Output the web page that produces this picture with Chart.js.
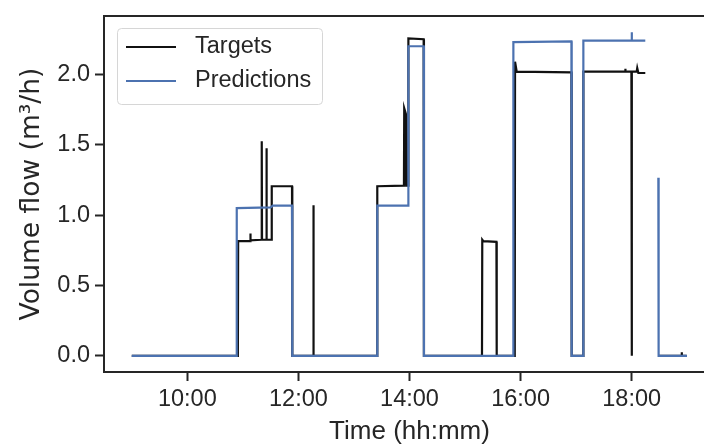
<!DOCTYPE html>
<html>
<head>
<meta charset="utf-8">
<script src="https://cdn.jsdelivr.net/npm/chart.js@4"></script>
<style>
  html, body { margin: 0; padding: 0; background: #fff; overflow: hidden; }
  #wrap { width: 720px; height: 446px; position: relative; }
</style>
</head>
<body>
<div id="wrap"><canvas id="flowChart"></canvas></div>
<script>
// Zeit in Stunden (dezimal), Werte in m3/h
const targetTimes = [9.00, 10.91, 10.915, 11.13, 11.135, 11.14, 11.335, 11.34, 11.345, 11.42, 11.425, 11.43,
    11.515, 11.52, 11.885, 11.89, 12.265, 12.27, 12.275, 13.415, 13.42, 13.90, 13.905, 13.935, 13.94,
    13.975, 13.98, 14.255, 14.26, 15.305, 15.31, 15.33, 15.565, 15.57, 15.895, 15.90, 15.93, 16.915,
    16.92, 17.125, 17.13, 17.88, 17.885, 17.89, 17.995, 18.00, 18.005, 18.09, 18.10, 18.12, 18.245,
    18.30, 18.48, 18.895, 18.90, 18.905, 18.99];
const targetValues = [0, 0, 0.815, 0.815, 0.87, 0.82, 0.825, 1.525, 0.825, 0.825, 1.475, 0.825,
    0.825, 1.205, 1.205, 0, 0, 1.07, 0, 0, 1.205, 1.21, 1.76, 1.72, 1.21,
    1.21, 2.255, 2.25, 0, 0, 0.825, 0.815, 0.81, 0, 0, 2.09, 2.02, 2.015,
    0, 0, 2.02, 2.02, 2.04, 2.02, 2.02, 0, 2.02, 2.02, 2.045, 2.01, 2.01,
    null, 0, 0, 0.025, 0, 0];

const predTimes = [9.00, 10.885, 10.89, 11.50, 11.54, 11.885, 11.89, 13.415, 13.42, 13.975, 13.98,
    14.255, 14.26, 15.865, 15.87, 16.915, 16.92, 17.125, 17.13, 17.995, 18.00, 18.005, 18.245,
    18.30, 18.48, 18.485, 18.995];
const predValues = [0, 0, 1.05, 1.055, 1.068, 1.068, 0, 0, 1.068, 1.068, 2.20,
    2.20, 0, 0, 2.23, 2.235, 0, 0, 2.24, 2.24, 2.30, 2.24, 2.24,
    null, 1.265, 0, 0];

const xTicks = [10, 12, 14, 16, 18];
const yTicks = [0, 0.5, 1.0, 1.5, 2.0];

const FONT = '"Liberation Sans", Arial, sans-serif';
const AXIS_COLOR = '#262626';
const TICK_SIZE = 23.5;
const LABEL_SIZE = 26;

function toPoints(times, values) {
    return times.map((t, i) => ({ x: t, y: values[i] }));
}

function hhmm(v) {
    const h = Math.floor(v);
    const m = Math.round((v - h) * 60);
    return String(h).padStart(2, '0') + ':' + String(m).padStart(2, '0');
}

// Rahmen oben/rechts wie bei matplotlib
const frameBox = {
    id: 'frameBox',
    afterDatasetsDraw(chart) {
        const { ctx, chartArea: a } = chart;
        ctx.save();
        ctx.strokeStyle = AXIS_COLOR;
        ctx.lineWidth = 2;
        ctx.beginPath();
        ctx.moveTo(a.left - 1, a.top);
        ctx.lineTo(a.right, a.top);
        ctx.lineTo(a.right, a.bottom);
        ctx.stroke();
        ctx.restore();
    }
};

// Legende mit Rahmen oben links
const boxLegend = {
    id: 'boxLegend',
    afterDraw(chart) {
        const { ctx } = chart;
        const items = chart.data.datasets;
        const x = 117, y = 28, w = 205, h = 76, r = 4;
        ctx.save();
        ctx.beginPath();
        ctx.roundRect(x + 0.5, y + 0.5, w, h, r);
        ctx.fillStyle = 'rgba(255,255,255,0.8)';
        ctx.fill();
        ctx.strokeStyle = '#d6d6d6';
        ctx.lineWidth = 1;
        ctx.stroke();
        ctx.font = TICK_SIZE + 'px ' + FONT;
        ctx.textBaseline = 'middle';
        items.forEach((ds, i) => {
            const ly = 47 + i * 34;
            ctx.strokeStyle = ds.borderColor;
            ctx.lineWidth = 2;
            ctx.beginPath();
            ctx.moveTo(126, ly);
            ctx.lineTo(176, ly);
            ctx.stroke();
            ctx.fillStyle = '#262626';
            ctx.fillText(ds.label, 195, ly);
        });
        ctx.restore();
    }
};

new Chart(document.getElementById('flowChart'), {
    type: 'line',
    data: {
        datasets: [
            {
                label: 'Targets',
                data: toPoints(targetTimes, targetValues),
                borderColor: '#111111',
                borderWidth: 2.2,
                order: 2
            },
            {
                label: 'Predictions',
                data: toPoints(predTimes, predValues),
                borderColor: '#4c72b0',
                borderWidth: 2.2,
                order: 1
            }
        ]
    },
    options: {
        responsive: true,
        maintainAspectRatio: false,
        animation: false,
        spanGaps: false,
        elements: {
            point: { radius: 0 },
            line: { tension: 0, borderJoinStyle: 'miter' }
        },
        layout: { padding: { top: 16, right: 5, left: 0, bottom: 0 } },
        plugins: {
            legend: { display: false },
            tooltip: { enabled: false }
        },
        scales: {
            x: {
                type: 'linear',
                min: 8.5,
                max: 19.5,
                afterBuildTicks: s => { s.ticks = xTicks.map(v => ({ value: v })); },
                afterFit: s => { s.height = 74; s.paddingLeft = 0; s.paddingRight = 0; },
                grid: { drawOnChartArea: false, drawTicks: true, tickLength: 9, tickWidth: 2, tickColor: AXIS_COLOR },
                border: { display: true, color: AXIS_COLOR, width: 2 },
                ticks: {
                    padding: 7,
                    maxRotation: 0,
                    color: AXIS_COLOR,
                    font: { family: FONT, size: TICK_SIZE, lineHeight: 1 },
                    callback: v => hhmm(v)
                },
                title: {
                    display: true,
                    text: 'Time (hh:mm)',
                    color: AXIS_COLOR,
                    font: { family: FONT, size: LABEL_SIZE, lineHeight: 1 },
                    padding: { top: 0, bottom: 1 }
                }
            },
            y: {
                min: -0.115,
                max: 2.415,
                afterBuildTicks: s => { s.ticks = yTicks.map(v => ({ value: v })); },
                afterFit: s => { s.width = 104; s.paddingTop = 0; s.paddingBottom = 0; },
                grid: { drawOnChartArea: false, drawTicks: true, tickLength: 9, tickWidth: 2, tickColor: AXIS_COLOR },
                border: { display: true, color: AXIS_COLOR, width: 2 },
                ticks: {
                    padding: 5,
                    color: AXIS_COLOR,
                    font: { family: FONT, size: TICK_SIZE },
                    callback: v => v.toFixed(1)
                },
                title: {
                    display: true,
                    text: 'Volume flow (m³/h)',
                    color: AXIS_COLOR,
                    font: { family: '"DejaVu Sans", sans-serif', size: 26.5, lineHeight: 1 },
                    padding: { top: 19, bottom: 0 }
                }
            }
        }
    },
    plugins: [frameBox, boxLegend]
});
</script>
</body>
</html>
